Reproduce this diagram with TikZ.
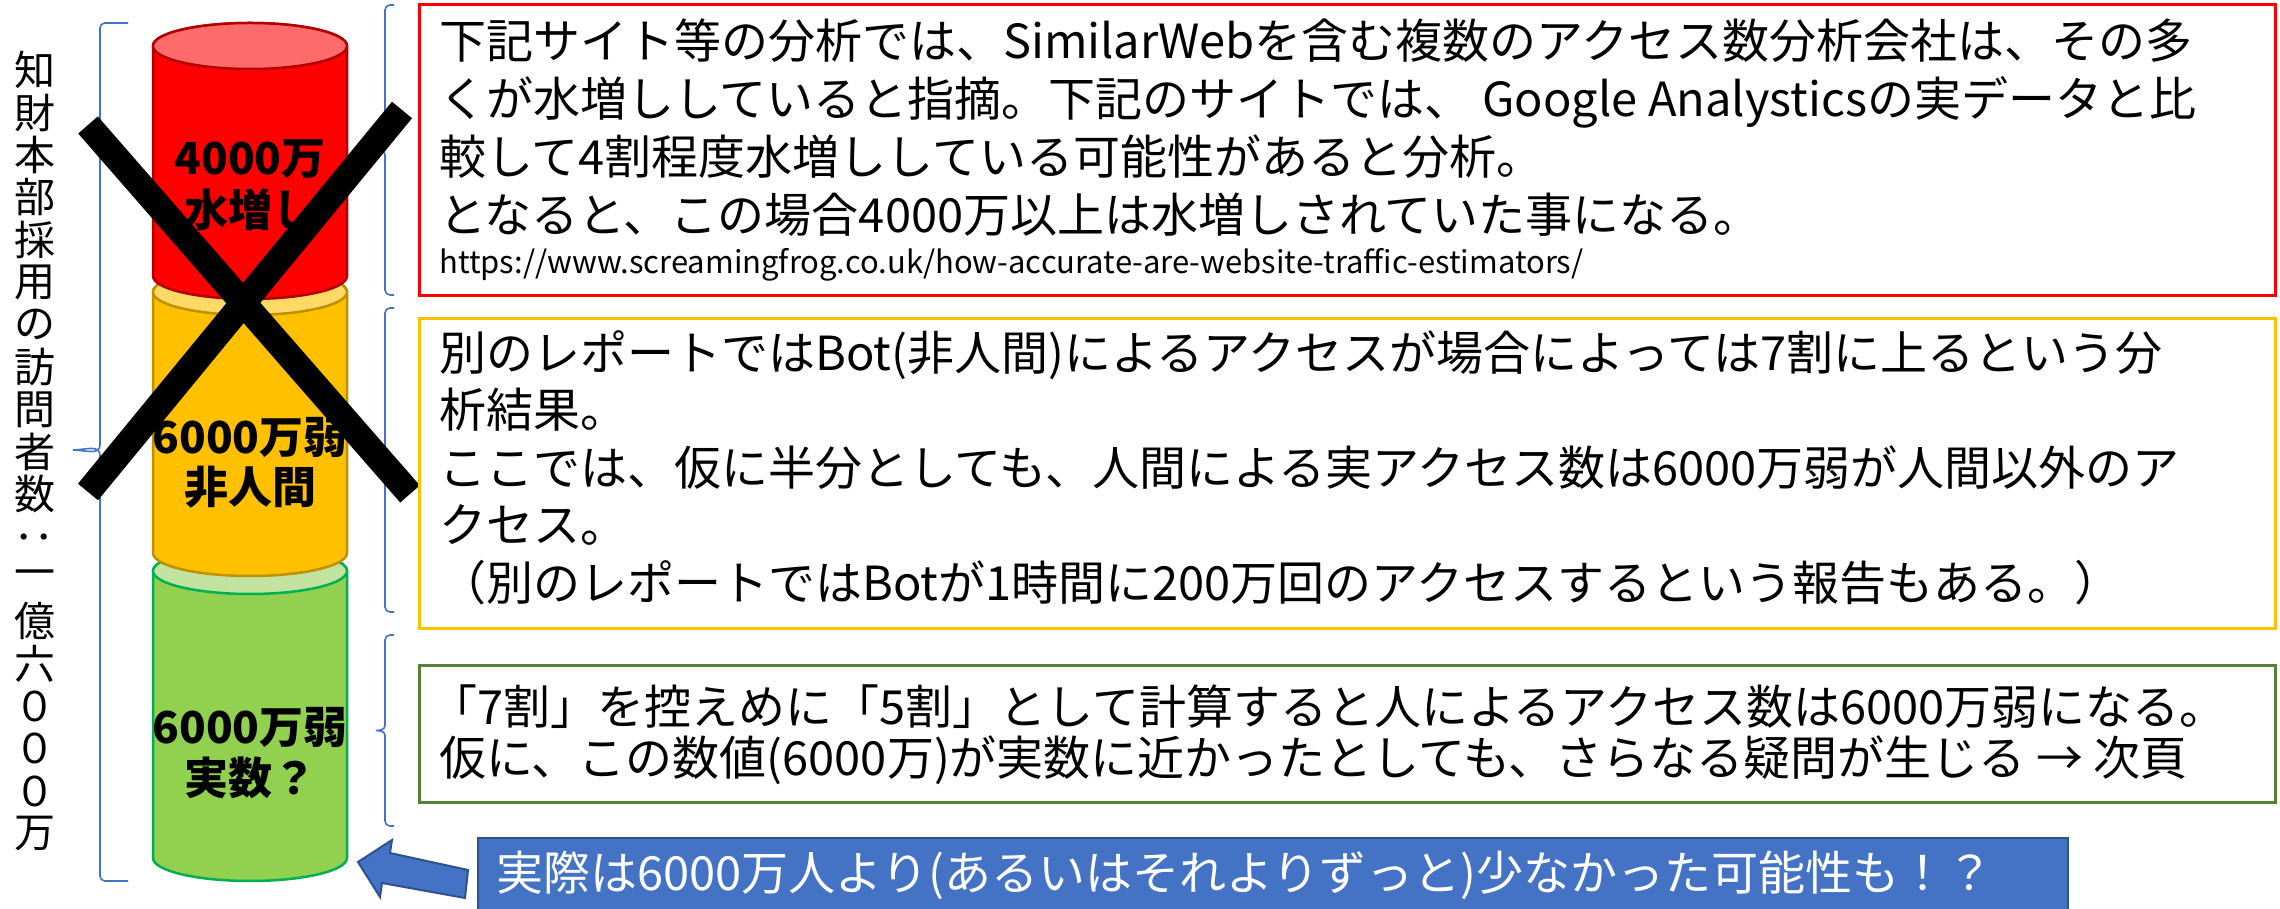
\documentclass[tikz,border=0pt]{standalone}
\usepackage{fontspec}
\newfontfamily\jp{Noto Sans CJK JP}
\definecolor{cRed}{HTML}{FF0000}
\definecolor{cRedTop}{HTML}{FF6B6B}
\definecolor{cRedEdge}{HTML}{B00000}
\definecolor{cYel}{HTML}{FFC000}
\definecolor{cYelTop}{HTML}{FFD966}
\definecolor{cYelEdge}{HTML}{BF9000}
\definecolor{cGrn}{HTML}{92D050}
\definecolor{cGrnTop}{HTML}{C2E3A0}
\definecolor{cGrnEdge}{HTML}{00B050}
\definecolor{cBlue}{HTML}{4472C4}
\definecolor{cBlueEdge}{HTML}{2F528F}
\definecolor{cOlive}{HTML}{548235}
\newcommand\mycyl[5]{%
  \draw[#5, fill=#3, line width=2.5] (153,#1) -- (153,#2)
    arc[start angle=180, end angle=360, x radius=97, y radius=23]
    -- (347,#1) arc[start angle=0, end angle=180, x radius=97, y radius=23] -- cycle;
  \draw[#5, fill=#4, line width=2.5] (250,#1) ellipse[x radius=97, y radius=23];
}
\newcommand\mybrace[6]{% x0 tip, x1 body, x2 ends, Ytop, Ymid, Ybot
  \draw[bracel] (#3,#4) -- ({#2+5},#4) to[out=180,in=90] (#2,{#4-5}) -- (#2,{#5+5})
    to[out=270,in=0] (#1,#5) to[out=0,in=90] (#2,{#5-5}) -- (#2,{#6+5})
    to[out=270,in=180] ({#2+5},#6) -- (#3,#6);
}
\begin{document}
\begin{tikzpicture}[x=1pt,y=1pt,
  bracel/.style={draw=cBlue, line width=1.6},
  cyllabel/.style={anchor=base, inner sep=0, font=\jp\bfseries\fontsize{44}{50}\selectfont},
  ln/.style={anchor=base west, inner sep=0, font=\jp\fontsize{47}{56}\selectfont},
  urlln/.style={anchor=base west, inner sep=0, font=\jp\fontsize{31}{36}\selectfont},
  vt/.style={inner sep=0, font=\jp\fontsize{41}{42}\selectfont},
  xline/.style={line width=26, black, line cap=butt},
  box/.style={draw, line width=2.6, anchor=north west, inner sep=0, minimum width=1856},
]
\useasboundingbox (0,0) rectangle (2280,909);
\fill[white] (0,0) rectangle (2280,909);

% vertical title
\foreach \c [count=\i] in {知,財,本,部,採,用,の,訪,問,者,数,{\rotatebox[origin=c]{90}{：}},一,億,六,０,０,０,万}{
  \node[vt] (v\i) at (35, {909-70.2-(\i-1)*42.4}) {\c};
}

% braces
\mybrace{73}{100}{128}{886}{459}{28}
\mybrace{376}{385}{394}{904}{759}{614}
\mybrace{376}{385}{394}{601}{449}{297}
\mybrace{376}{385}{394}{274}{178.5}{83}

% cylinders
\mycyl{338}{51}{cGrn}{cGrnTop}{cGrnEdge}
\mycyl{617}{356}{cYel}{cYelTop}{cYelEdge}
\mycyl{863}{633}{cRed}{cRedTop}{cRedEdge}

\node[cyllabel] (r1) at (250,734) {4000万};
\node[cyllabel] (r2) at (250,682) {水増し};
\node[cyllabel] (y1) at (250,455) {6000万弱};
\node[cyllabel] (y2) at (250,405) {非人間};
\node[cyllabel] (g1) at (250,165) {6000万弱};
\node[cyllabel] (g2) at (250,114) {実数？};

% cross
\draw[xline] (88,784) -- (410,415);
\draw[xline] (88,417) -- (402,799);

% text boxes
\node[box, draw=red, minimum height=291] (b1) at (418,906) {};
\node[box, draw=cYel, minimum height=310] (b2) at (418,592) {};
\node[box, draw=cOlive, minimum height=137] (b3) at (418,245) {};

\node[ln] (t11) at (439,850) {下記サイト等の分析では、SimilarWebを含む複数のアクセス数分析会社は、その多};
\node[ln] (t12) at (439,792) {くが水増ししていると指摘。下記のサイトでは、 Google Analysticsの実データと比};
\node[ln] (t13) at (439,734) {較して4割程度水増ししている可能性があると分析。};
\node[ln] (t14) at (439,676) {となると、この場合4000万以上は水増しされていた事になる。};
\node[urlln] (t15) at (439,635) {https://www.screamingfrog.co.uk/how-accurate-are-website-traffic-estimators/};

\node[ln] (t21) at (439,538) {別のレポートではBot(非人間)によるアクセスが場合によっては7割に上るという分};
\node[ln] (t22) at (439,481) {析結果。};
\node[ln] (t23) at (439,423) {ここでは、仮に半分としても、人間による実アクセス数は6000万弱が人間以外のア};
\node[ln] (t24) at (439,366) {クセス。};
\node[ln] (t25) at (439,308) {（別のレポートではBotが1時間に200万回のアクセスするという報告もある。）};

\node[ln] (t31) at (430,184) {「7割」を控えめに「5割」として計算すると人によるアクセス数は6000万弱になる。};
\node[ln] (t32) at (439,133) {仮に、この数値(6000万)が実数に近かったとしても、さらなる疑問が生じる → 次頁};

% blue note and arrow
\node[box, draw=cBlueEdge, fill=cBlue, line width=2, minimum width=1590, minimum height=84] (b4) at (477,72) {};
\node[ln, text=white] (t41) at (496,18) {実際は6000万人より(あるいはそれよりずっと)少なかった可能性も！？};
\coordinate (atip) at (358,47);
\draw[cBlueEdge, fill=cBlue, line width=2, line join=miter]
  (atip) -- (392,69) -- (390,56) -- (468,39) -- (465,11) -- (382,26) -- (380,12) -- cycle;
\end{tikzpicture}
\end{document}
